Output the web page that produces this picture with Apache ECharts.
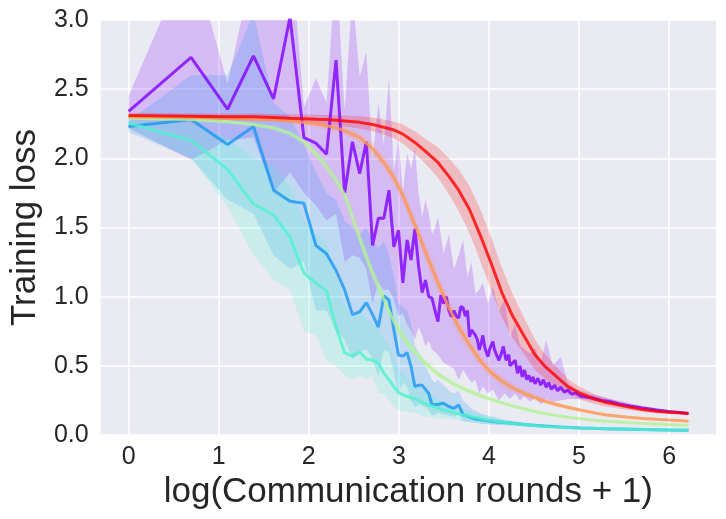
<!DOCTYPE html>
<html>
<head>
<meta charset="utf-8">
<script src="https://cdn.jsdelivr.net/npm/echarts@6/dist/echarts.min.js"></script>
<style>
html, body { margin: 0; padding: 0; background: #fff; }
#charts { width: 726px; height: 519px; }
</style>
</head>
<body>
<div id="charts"></div>
<script>
var myChart = echarts.init(document.getElementById('charts'));

// rainbow colormap, 6 runs
var colors = ['#8000ff', '#1996f3', '#4df3ce', '#b3f396', '#ff964f', '#ff0000'];
var xTicks = [0, 1, 2, 3, 4, 5, 6];

// purple run (noisy)
var purpleRounds = [0, 1, 2, 3, 4, 5, 6, 7, 8, 9, 10, 11, 12, 13, 14, 15, 16, 17, 18, 19,
	20, 21, 22, 23, 24, 25, 26, 27, 28, 29, 30, 31, 32, 33, 34, 35, 36, 37, 38, 39,
	40, 41, 42, 43, 44, 45, 46, 47, 48, 49, 50, 51, 52, 53, 54, 55, 56, 57, 58, 59,
	60, 62, 63, 65, 67, 68, 70, 72, 74, 76, 78, 80, 82, 84, 86, 88, 90, 93, 96, 99,
	102, 105, 108, 112, 116, 120, 125, 130, 136, 142, 150, 160, 175, 190, 210, 230, 260, 300, 350, 400,
	450, 499];
var purpleLoss = [2.34, 2.73, 2.355, 2.74, 2.43, 3.02, 2.15, 2.11, 2.03, 2.71, 1.75, 2.12, 1.89, 2.12, 1.37, 1.567, 1.567, 1.77, 1.36, 1.48,
	1.10, 1.41, 1.265, 1.49, 1.22, 1.03, 1.12, 1.0, 0.99, 0.9, 0.82, 1.01, 0.95, 1.0, 0.9, 0.855, 0.9, 0.86, 0.846, 0.93,
	0.918, 0.86, 0.9, 0.71, 0.76, 0.74, 0.72, 0.69, 0.615, 0.66, 0.72, 0.64, 0.6, 0.566, 0.62, 0.65, 0.675, 0.62, 0.59, 0.6,
	0.54, 0.6, 0.64, 0.54, 0.58, 0.5, 0.52, 0.54, 0.446, 0.5, 0.42, 0.47, 0.40, 0.43, 0.385, 0.42, 0.37, 0.41, 0.36, 0.40,
	0.345, 0.38, 0.33, 0.36, 0.32, 0.345, 0.31, 0.325, 0.295, 0.305, 0.28, 0.275, 0.265, 0.25, 0.24, 0.225, 0.21, 0.195, 0.18, 0.17,
	0.162, 0.155];
var purpleBandRounds = [0, 1, 2, 3, 4, 5, 6, 7, 8, 9, 10, 11, 12, 13, 14, 15, 16, 17, 18, 19,
	20, 21, 22, 23, 24, 25, 26, 27, 28, 29, 30, 32, 34, 36, 38, 40, 42, 44, 46, 48,
	50, 53, 56, 60, 64, 68, 72, 76, 80, 85, 90, 96, 102, 110, 120, 130, 140, 150, 175, 200,
	250, 300, 400, 499];
var purpleHigh = [2.45, 3.5, 2.54, 3.4, 3.3, 3.6, 2.37, 2.58, 2.40, 3.4, 2.35, 3.2, 2.59, 2.77, 2.0, 2.4, 2.1, 2.59, 1.9, 2.15,
	1.75, 2.04, 1.92, 2.08, 1.75, 1.58, 1.7, 1.6, 1.45, 1.5, 1.58, 1.31, 1.45, 1.2, 1.3, 1.41, 1.14, 1.25, 1.02, 1.05,
	1.1, 0.95, 1.07, 0.9, 0.98, 0.71, 0.8, 0.65, 0.62, 0.59, 0.63, 0.52, 0.69, 0.5, 0.566, 0.38, 0.34, 0.32, 0.29, 0.27,
	0.235, 0.21, 0.18, 0.165];
var purpleLow = [2.22, 1.99, 2.13, 2.15, 1.75, 1.9, 1.75, 1.66, 1.55, 1.6, 1.25, 1.3, 1.28, 1.2, 0.95, 1.1, 1.05, 1.05, 0.98, 0.86,
	0.88, 0.8, 0.75, 0.69, 0.78, 0.72, 0.64, 0.68, 0.62, 0.6, 0.58, 0.52, 0.5, 0.48, 0.4, 0.47, 0.42, 0.38, 0.4, 0.3,
	0.35, 0.3, 0.33, 0.25, 0.3, 0.26, 0.3, 0.25, 0.28, 0.24, 0.27, 0.22, 0.26, 0.24, 0.25, 0.26, 0.26, 0.26, 0.245, 0.235,
	0.21, 0.185, 0.165, 0.15];

// blue run
var blueRounds = [0, 1, 2, 3, 4, 5, 6, 7, 8, 9, 10, 11, 12, 13, 14, 15, 16, 17, 18, 19,
	20, 21, 22, 23, 24, 25, 26, 27, 28, 29, 30, 32, 34, 36, 38, 40, 45, 50, 57, 64,
	70, 80, 100, 120, 150, 200, 300, 400, 499];
var blueLoss = [2.23, 2.28, 2.10, 2.23, 1.77, 1.69, 1.675, 1.37, 1.31, 1.19, 1.05, 0.87, 0.89, 0.957, 0.87, 0.78, 1.005, 0.976, 0.76, 0.578,
	0.57, 0.595, 0.494, 0.35, 0.36, 0.36, 0.33, 0.30, 0.217, 0.22, 0.22, 0.23, 0.205, 0.193, 0.217, 0.145, 0.12, 0.108, 0.096, 0.09,
	0.085, 0.075, 0.065, 0.058, 0.05, 0.045, 0.04, 0.037, 0.035];
var blueHigh = [2.27, 2.6, 2.6, 3.05, 2.4, 2.3, 2.1, 1.9, 1.75, 1.7, 1.55, 1.5, 1.45, 1.5, 1.4, 1.35, 1.4, 1.3, 1.15, 0.95,
	0.93, 0.9, 0.8, 0.65, 0.6, 0.55, 0.5, 0.45, 0.4, 0.38, 0.4, 0.36, 0.32, 0.3, 0.32, 0.25, 0.18, 0.15, 0.13, 0.11,
	0.1, 0.09, 0.075, 0.065, 0.055, 0.05, 0.044, 0.04, 0.038];
var blueLow = [2.19, 2.0, 1.7, 1.6, 1.3, 1.2, 1.25, 0.9, 0.9, 0.75, 0.69, 0.55, 0.6, 0.62, 0.55, 0.42, 0.62, 0.6, 0.45, 0.3,
	0.38, 0.35, 0.25, 0.2, 0.22, 0.21, 0.2, 0.18, 0.14, 0.15, 0.16, 0.15, 0.14, 0.13, 0.15, 0.1, 0.09, 0.08, 0.075, 0.07,
	0.068, 0.062, 0.055, 0.05, 0.045, 0.04, 0.036, 0.034, 0.032];

// cyan run
var cyanRounds = [0, 1, 2, 3, 4, 5, 6, 7, 8, 9, 10, 11, 12, 13, 14, 15, 16, 17, 18, 19,
	20, 21, 22, 23, 24, 25, 27, 30, 32, 35, 40, 45, 52, 60, 70, 85, 107, 150, 200, 300,
	400, 499];
var cyanLoss = [2.255, 2.13, 1.92, 1.67, 1.59, 1.43, 1.17, 1.10, 1.04, 0.78, 0.595, 0.57, 0.60, 0.55, 0.54, 0.52, 0.446, 0.40, 0.35, 0.306,
	0.29, 0.28, 0.27, 0.265, 0.25, 0.235, 0.217, 0.195, 0.18, 0.168, 0.145, 0.13, 0.108, 0.095, 0.085, 0.07, 0.06, 0.05, 0.045, 0.04,
	0.037, 0.036];
var cyanHigh = [2.28, 2.25, 2.15, 2.0, 1.95, 1.8, 1.55, 1.45, 1.4, 1.15, 0.95, 0.85, 0.9, 0.85, 0.8, 0.78, 0.7, 0.65, 0.55, 0.48,
	0.45, 0.42, 0.4, 0.38, 0.36, 0.33, 0.3, 0.26, 0.24, 0.22, 0.19, 0.165, 0.135, 0.115, 0.1, 0.082, 0.068, 0.056, 0.05, 0.044,
	0.04, 0.039];
var cyanLow = [2.22, 2.0, 1.65, 1.3, 1.12, 1.05, 0.75, 0.72, 0.54, 0.5, 0.43, 0.4, 0.43, 0.4, 0.43, 0.3, 0.3, 0.25, 0.2, 0.18,
	0.17, 0.17, 0.16, 0.16, 0.15, 0.14, 0.13, 0.12, 0.12, 0.115, 0.1, 0.09, 0.08, 0.075, 0.068, 0.06, 0.052, 0.045, 0.04, 0.036,
	0.034, 0.033];

// smooth runs share the same rounds
var smoothRounds = [0, 1, 2, 3, 4, 5, 6, 7, 8, 9, 10, 12, 14, 16, 18, 20, 23, 26, 30, 34,
	38, 43, 49, 55, 62, 70, 80, 90, 100, 115, 130, 150, 175, 200, 250, 300, 350, 400, 450, 499];
var greenLoss = [2.29, 2.28, 2.265, 2.245, 2.22, 2.18, 2.12, 2.03, 1.94, 1.84, 1.74, 1.42, 1.17, 0.98, 0.82, 0.71, 0.6, 0.52, 0.44, 0.39,
	0.35, 0.315, 0.282, 0.258, 0.233, 0.21, 0.19, 0.17, 0.155, 0.14, 0.128, 0.117, 0.107, 0.099, 0.09, 0.084, 0.08, 0.076, 0.073, 0.071];
var greenSpread = [0.012, 0.012, 0.013, 0.015, 0.018, 0.02, 0.025, 0.03, 0.035, 0.04, 0.045, 0.05, 0.05, 0.05, 0.045, 0.04, 0.035, 0.03, 0.026, 0.022,
	0.02, 0.018, 0.016, 0.014, 0.012, 0.011, 0.01, 0.009, 0.008, 0.008, 0.007, 0.007, 0.006, 0.006, 0.005, 0.005, 0.005, 0.005, 0.005, 0.005];
var orangeLoss = [2.30, 2.295, 2.29, 2.285, 2.28, 2.27, 2.26, 2.25, 2.235, 2.22, 2.20, 2.15, 2.07, 1.97, 1.86, 1.73, 1.52, 1.32, 1.10, 0.92,
	0.78, 0.65, 0.53, 0.45, 0.39, 0.34, 0.30, 0.27, 0.245, 0.22, 0.20, 0.18, 0.16, 0.145, 0.13, 0.12, 0.113, 0.108, 0.104, 0.10];
var orangeSpread = [0.015, 0.015, 0.016, 0.017, 0.018, 0.02, 0.022, 0.024, 0.026, 0.028, 0.03, 0.035, 0.04, 0.045, 0.05, 0.055, 0.06, 0.065, 0.07, 0.065,
	0.06, 0.05, 0.045, 0.04, 0.035, 0.03, 0.025, 0.022, 0.02, 0.017, 0.015, 0.013, 0.011, 0.01, 0.009, 0.008, 0.007, 0.007, 0.006, 0.006];
var redLoss = [2.31, 2.305, 2.30, 2.30, 2.295, 2.29, 2.287, 2.283, 2.28, 2.275, 2.27, 2.26, 2.245, 2.225, 2.205, 2.175, 2.115, 2.05, 1.97, 1.87,
	1.77, 1.63, 1.43, 1.24, 1.03, 0.86, 0.71, 0.58, 0.50, 0.42, 0.35, 0.30, 0.26, 0.235, 0.205, 0.185, 0.172, 0.165, 0.16, 0.155];
var redSpread = [0.02, 0.02, 0.022, 0.024, 0.026, 0.028, 0.03, 0.032, 0.034, 0.036, 0.04, 0.045, 0.05, 0.055, 0.06, 0.07, 0.08, 0.09, 0.11, 0.13,
	0.15, 0.17, 0.19, 0.19, 0.18, 0.16, 0.13, 0.11, 0.09, 0.07, 0.055, 0.045, 0.035, 0.03, 0.022, 0.018, 0.015, 0.013, 0.012, 0.011];

var textColor = '#262626';
var fontFamily = 'Liberation Sans, Arial, sans-serif';

// x is log(round + 1)
function toPoints(rounds, values){
	return rounds.map(function(r, i){
		return [Math.log(r + 1), values[i]];
	});
}

function shift(values, spread, sign){
	return values.map(function(v, i){
		return v + sign * spread[i];
	});
}

function lineSeries(rounds, values, color){
	return {
		type: 'line',
		data: toPoints(rounds, values),
		showSymbol: false,
		symbol: 'none',
		lineStyle: { color: color, width: 3, opacity: 0.8 },
		itemStyle: { color: color },
		animation: false
	};
}

function bandSeries(rounds, low, high, color){
	var top = toPoints(rounds, high),
		bottom = toPoints(rounds, low).reverse();
	return {
		type: 'custom',
		clip: true,
		silent: true,
		animation: false,
		data: [[0, 0]],
		renderItem: function(params, api){
			var pts = top.concat(bottom).map(function(p){
				return api.coord(p);
			});
			return {
				type: 'polygon',
				shape: { points: pts },
				style: { fill: color, opacity: 0.2 }
			};
		}
	};
}

var option = {
	backgroundColor: '#ffffff',
	grid: {
		left: 97, right: 10, top: 20, bottom: 84,
		show: true, backgroundColor: '#eaeaf2', borderWidth: 0
	},
	xAxis: {
		type: 'value',
		min: -0.31,
		max: 6.52,
		name: 'log(Communication rounds + 1)',
		nameLocation: 'middle',
		nameGap: 29,
		nameTextStyle: { fontSize: 35, color: textColor, fontFamily: fontFamily },
		axisLine: { show: false },
		axisTick: { show: false, customValues: xTicks },
		axisLabel: { customValues: xTicks, fontSize: 25, color: textColor, fontFamily: fontFamily, margin: 10 },
		splitLine: { show: true, lineStyle: { color: '#ffffff', width: 1.5 } }
	},
	yAxis: {
		type: 'value',
		min: 0,
		max: 3,
		interval: 0.5,
		name: 'Training loss',
		nameLocation: 'middle',
		nameGap: 55,
		nameTextStyle: { fontSize: 35, color: textColor, fontFamily: fontFamily },
		axisLine: { show: false },
		axisTick: { show: false },
		axisLabel: {
			fontSize: 25, color: textColor, fontFamily: fontFamily, margin: 12,
			formatter: function(v){ return v.toFixed(1); }
		},
		splitLine: { show: true, lineStyle: { color: '#ffffff', width: 1.5 } }
	},
	series: [
		bandSeries(purpleBandRounds, purpleLow, purpleHigh, colors[0]),
		lineSeries(purpleRounds, purpleLoss, colors[0]),
		bandSeries(blueRounds, blueLow, blueHigh, colors[1]),
		lineSeries(blueRounds, blueLoss, colors[1]),
		bandSeries(cyanRounds, cyanLow, cyanHigh, colors[2]),
		lineSeries(cyanRounds, cyanLoss, colors[2]),
		bandSeries(smoothRounds, shift(greenLoss, greenSpread, -1), shift(greenLoss, greenSpread, 1), colors[3]),
		lineSeries(smoothRounds, greenLoss, colors[3]),
		bandSeries(smoothRounds, shift(orangeLoss, orangeSpread, -1), shift(orangeLoss, orangeSpread, 1), colors[4]),
		lineSeries(smoothRounds, orangeLoss, colors[4]),
		bandSeries(smoothRounds, shift(redLoss, redSpread, -1), shift(redLoss, redSpread, 1), colors[5]),
		lineSeries(smoothRounds, redLoss, colors[5])
	]
};

myChart.setOption(option);
</script>
</body>
</html>
